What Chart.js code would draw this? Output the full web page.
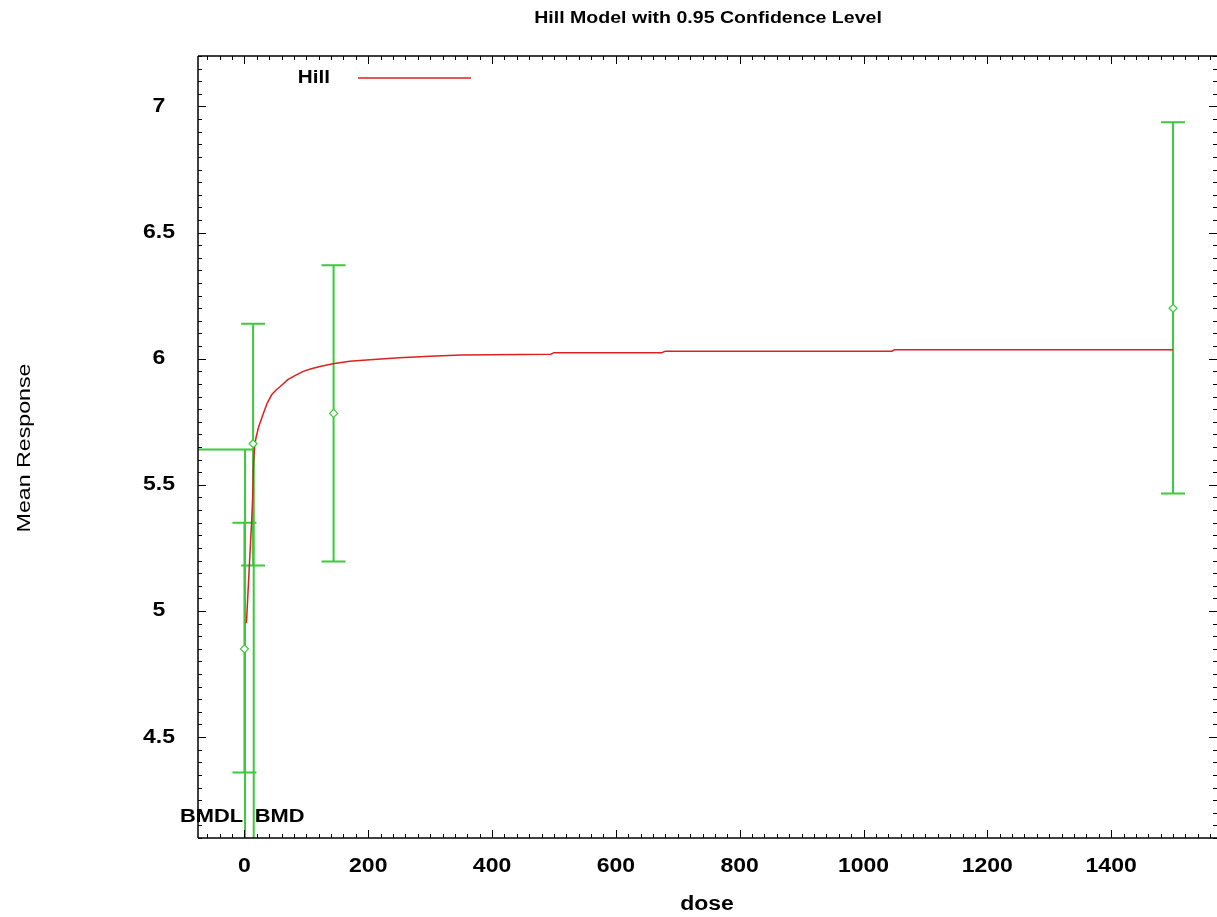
<!DOCTYPE html>
<html>
<head>
<meta charset="utf-8">
<script src="https://cdn.jsdelivr.net/npm/chart.js@4.4.1/dist/chart.umd.min.js"></script>
<style>
  body { margin: 0; background: #fff; }
  canvas { display: block; }
</style>
</head>
<body>
<canvas id="hill-chart" width="1217" height="917"></canvas>
<script>
// dose groups, means and 95% limits
const doses = [0, 14, 144, 1500];
const means = [4.85, 5.663, 5.783, 6.20];
const lowerCI = [4.36, 5.18, 5.196, 5.466];
const upperCI = [5.35, 6.139, 6.37, 6.937];

// fitted Hill curve (as drawn)
const curveDose = [3.2, 5.5, 7.6, 9.7, 12.0, 13.6, 14.4, 16.5, 19, 23, 27, 31, 37, 44, 51, 58, 70, 83, 95, 108, 122, 143, 170, 203, 250, 300, 350, 495, 500, 674, 680, 1046, 1050, 1500];
const curveResp = [4.951, 5.06, 5.163, 5.262, 5.37, 5.468, 5.573, 5.655, 5.69, 5.73, 5.758, 5.786, 5.825, 5.857, 5.876, 5.89, 5.917, 5.935, 5.95, 5.96, 5.969, 5.98, 5.99, 5.996, 6.004, 6.01, 6.015, 6.018, 6.024, 6.024, 6.03, 6.03, 6.036, 6.036];

// benchmark dose markers
const bmr = 5.64;
const bmdl = 1;
const bmd = 15;

// axis ticks
const xTicks = [0, 200, 400, 600, 800, 1000, 1200, 1400];
const yTicks = [4.5, 5, 5.5, 6, 6.5, 7];
const yTickLabels = ['4.5', '5', '5.5', '6', '6.5', '7'];

const GREEN = '#3cc93c';
const RED = '#dd2020';

function stretchText(ctx, txt, x, y, font, sx, align) {
    ctx.save();
    ctx.font = font;
    ctx.textAlign = align || 'center';
    ctx.textBaseline = 'middle';
    ctx.fillStyle = '#000';
    ctx.translate(x, y);
    ctx.scale(sx, 1);
    ctx.fillText(txt, 0, 0);
    ctx.restore();
}

// error bars + BMD lines, under the data
const errorBars = {
    id: 'errorBars',
    beforeDatasetsDraw(chart) {
        const ctx = chart.ctx;
        const xs = chart.scales.x, ys = chart.scales.y;
        const area = chart.chartArea;
        ctx.save();
        ctx.strokeStyle = GREEN;
        ctx.lineWidth = 2;
        doses.forEach((d, i) => {
            const px = xs.getPixelForValue(d);
            const top = ys.getPixelForValue(upperCI[i]);
            const bot = ys.getPixelForValue(lowerCI[i]);
            ctx.beginPath();
            ctx.moveTo(px, top); ctx.lineTo(px, bot);
            ctx.moveTo(px - 12, top); ctx.lineTo(px + 12, top);
            ctx.moveTo(px - 12, bot); ctx.lineTo(px + 12, bot);
            ctx.stroke();
        });
        // BMR level and BMDL / BMD drops
        const yb = ys.getPixelForValue(bmr);
        const xl = xs.getPixelForValue(bmdl);
        const xd = xs.getPixelForValue(bmd);
        ctx.beginPath();
        ctx.moveTo(area.left, yb); ctx.lineTo(xd, yb);
        ctx.moveTo(xl, yb); ctx.lineTo(xl, area.bottom);
        ctx.moveTo(xd, yb); ctx.lineTo(xd, area.bottom);
        ctx.stroke();
        ctx.restore();
    }
};

// frame, inward ticks, labels, titles, legend
const frame = {
    id: 'frame',
    afterDraw(chart) {
        const ctx = chart.ctx;
        const xs = chart.scales.x, ys = chart.scales.y;
        const a = chart.chartArea;
        ctx.save();
        ctx.strokeStyle = '#000';
        ctx.lineWidth = 1.5;
        ctx.beginPath();
        ctx.moveTo(a.left, a.top); ctx.lineTo(a.right, a.top);
        ctx.moveTo(a.left, a.bottom); ctx.lineTo(a.right, a.bottom);
        ctx.moveTo(a.left, a.top); ctx.lineTo(a.left, a.bottom);
        ctx.stroke();

        ctx.lineWidth = 1;
        ctx.beginPath();
        for (let v = -60; v <= 1560; v += 20) {
            const px = Math.round(xs.getPixelForValue(v)) + 0.5;
            const len = v % 200 === 0 ? 8 : 4;
            ctx.moveTo(px, a.bottom); ctx.lineTo(px, a.bottom - len);
            ctx.moveTo(px, a.top); ctx.lineTo(px, a.top + len);
        }
        for (let k = 82; k <= 144; k++) {
            const v = k / 20;
            const py = Math.round(ys.getPixelForValue(v)) + 0.5;
            const len = k % 10 === 0 ? 8 : 4;
            ctx.moveTo(a.left, py); ctx.lineTo(a.left + len, py);
            ctx.moveTo(a.right, py); ctx.lineTo(a.right - len, py);
        }
        ctx.stroke();

        xTicks.forEach(v => {
            stretchText(ctx, String(v), xs.getPixelForValue(v), 866, 'bold 20px "Liberation Sans", Arial', 1.15);
        });
        yTicks.forEach((v, i) => {
            stretchText(ctx, yTickLabels[i], 159, ys.getPixelForValue(v), 'bold 20px "Liberation Sans", Arial', 1.15);
        });

        stretchText(ctx, 'Hill Model with 0.95 Confidence Level', 708, 18, 'bold 17px "Liberation Sans", Arial', 1.15);
        stretchText(ctx, 'dose', 707, 904, 'bold 20px "Liberation Sans", Arial', 1.15);

        ctx.save();
        ctx.translate(25, 448);
        ctx.rotate(-Math.PI / 2);
        stretchText(ctx, 'Mean Response', 0, 0, '19px "Liberation Sans", Arial', 1.22);
        ctx.restore();

        // legend
        stretchText(ctx, 'Hill', 330, 78, 'bold 18px "Liberation Sans", Arial', 1.15, 'right');
        ctx.strokeStyle = RED;
        ctx.lineWidth = 1.5;
        ctx.beginPath();
        ctx.moveTo(358, 78); ctx.lineTo(471, 78);
        ctx.stroke();

        // BMDL / BMD labels
        stretchText(ctx, 'BMDL', xs.getPixelForValue(bmdl) - 2, 817, 'bold 19px "Liberation Sans", Arial', 1.15, 'right');
        stretchText(ctx, 'BMD', xs.getPixelForValue(bmd) + 1, 817, 'bold 19px "Liberation Sans", Arial', 1.15, 'left');
        ctx.restore();
    }
};

new Chart(document.getElementById('hill-chart'), {
    type: 'scatter',
    data: {
        datasets: [{
            label: 'Hill',
            data: curveDose.map((d, i) => ({ x: d, y: curveResp[i] })),
            showLine: true,
            borderColor: RED,
            borderWidth: 1.5,
            pointRadius: 0,
            tension: 0,
            order: 2
        }, {
            label: 'means',
            data: doses.map((d, i) => ({ x: d, y: means[i] })),
            pointStyle: 'rectRot',
            pointRadius: 4,
            borderColor: GREEN,
            backgroundColor: '#fff',
            borderWidth: 1.2,
            order: 1
        }]
    },
    options: {
        responsive: false,
        animation: false,
        layout: { autoPadding: false, padding: { left: 198, top: 56, right: 0, bottom: 79 } },
        plugins: { legend: { display: false }, tooltip: { enabled: false } },
        scales: {
            x: { type: 'linear', min: -75, max: 1571, display: false },
            y: { type: 'linear', min: 4.1, max: 7.2, display: false }
        }
    },
    plugins: [errorBars, frame]
});
</script>
</body>
</html>
